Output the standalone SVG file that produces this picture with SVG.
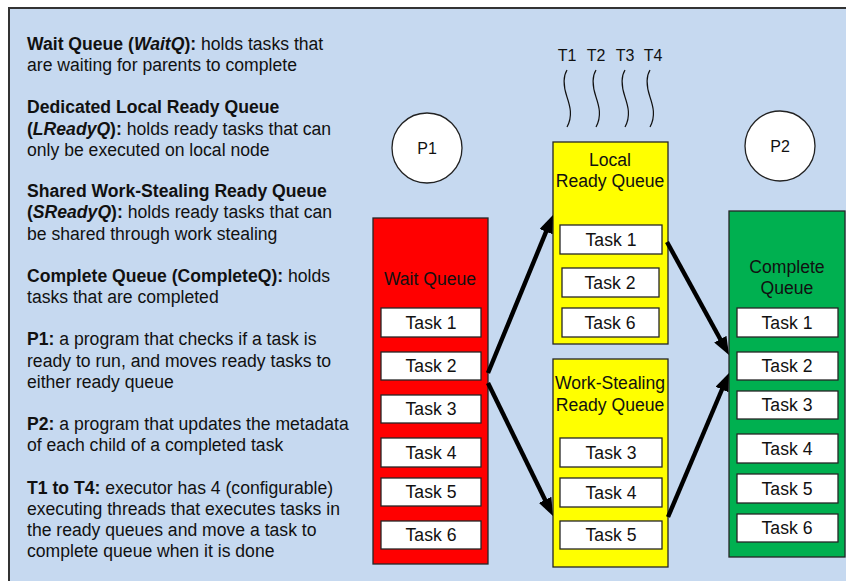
<svg xmlns="http://www.w3.org/2000/svg" width="847" height="581" viewBox="0 0 847 581">
  <style>
    text { font-family: "Liberation Sans", Arial, sans-serif; fill: #111; }
    .desc { font-size: 17.6px; }
    .b { font-weight: bold; }
    .bi { font-weight: bold; font-style: italic; }
    .lbl { font-size: 17.6px; text-anchor: middle; }
    .proc { font-size: 16px; text-anchor: middle; }
    .queue { stroke: #262626; stroke-width: 1.3; }
    .task { fill: #fff; stroke: #262626; stroke-width: 1.3; }
    .thread { fill: none; stroke: #111; stroke-width: 1.2; }
    .proc-circle { fill: #fff; stroke: #222; stroke-width: 1.3; }
    .flow { fill: none; stroke: #000; stroke-width: 4.4; marker-end: url(#head); }
  </style>
  <defs>
    <marker id="head" markerUnits="userSpaceOnUse" markerWidth="18" markerHeight="14" refX="6" refY="7" orient="auto">
      <path d="M0,0 L18,7 L0,14 z" fill="#000"/>
    </marker>
    <path id="wave" class="thread" d="M0,0 C-5,8 -3,18 0,27 S6,46 0,57"/>
  </defs>

  <!-- canvas -->
  <rect x="0" y="0" width="847" height="581" fill="#fff"/>
  <rect x="9" y="8" width="837" height="580" fill="#C6D9F0"/>
  <path d="M9,581 V8 H846" fill="none" stroke="#333" stroke-width="2"/>

  <!-- legend -->
  <g id="legend" class="desc">
    <text x="27" y="50"><tspan class="b">Wait Queue (</tspan><tspan class="bi">WaitQ</tspan><tspan class="b">):</tspan> holds tasks that</text>
    <text x="27" y="71">are waiting for parents to complete</text>
    <text x="27" y="113"><tspan class="b">Dedicated Local Ready Queue</tspan></text>
    <text x="27" y="135"><tspan class="b">(</tspan><tspan class="bi">LReadyQ</tspan><tspan class="b">):</tspan> holds ready tasks that can</text>
    <text x="27" y="156">only be executed on local node</text>
    <text x="27" y="197"><tspan class="b">Shared Work-Stealing Ready Queue</tspan></text>
    <text x="27" y="218"><tspan class="b">(</tspan><tspan class="bi">SReadyQ</tspan><tspan class="b">):</tspan> holds ready tasks that can</text>
    <text x="27" y="240">be shared through work stealing</text>
    <text x="27" y="282"><tspan class="b">Complete Queue (CompleteQ):</tspan> holds</text>
    <text x="27" y="303">tasks that are completed</text>
    <text x="27" y="345"><tspan class="b">P1:</tspan> a program that checks if a task is</text>
    <text x="27" y="367">ready to run, and moves ready tasks to</text>
    <text x="27" y="388">either ready queue</text>
    <text x="27" y="430"><tspan class="b">P2:</tspan> a program that updates the metadata</text>
    <text x="27" y="451">of each child of a completed task</text>
    <text x="27" y="494"><tspan class="b">T1 to T4:</tspan> executor has 4 (configurable)</text>
    <text x="27" y="515">executing threads that executes tasks in</text>
    <text x="27" y="536">the ready queues and move a task to</text>
    <text x="27" y="557">complete queue when it is done</text>
  </g>

  <!-- executor threads -->
  <g id="threads">
    <text class="proc" x="567" y="61">T1</text>
    <text class="proc" x="596" y="61">T2</text>
    <text class="proc" x="625" y="61">T3</text>
    <text class="proc" x="653" y="61">T4</text>
    <use href="#wave" x="567" y="70"/>
    <use href="#wave" x="596" y="70"/>
    <use href="#wave" x="625" y="70"/>
    <use href="#wave" x="650" y="70"/>
  </g>

  <!-- programs -->
  <g id="p1">
    <circle class="proc-circle" cx="427" cy="148" r="35"/>
    <text class="proc" x="427" y="154">P1</text>
  </g>
  <g id="p2">
    <circle class="proc-circle" cx="780" cy="146" r="35"/>
    <text class="proc" x="780" y="152">P2</text>
  </g>

  <!-- wait queue -->
  <g id="wait-queue">
    <rect class="queue" x="373" y="218" width="115" height="346" fill="#FF0000"/>
    <text class="lbl" x="430" y="285">Wait Queue</text>
    <rect class="task" x="381" y="308" width="100" height="29"/>
    <text class="lbl" x="431" y="329">Task 1</text>
    <rect class="task" x="381" y="352" width="100" height="28"/>
    <text class="lbl" x="431" y="372">Task 2</text>
    <rect class="task" x="381" y="395" width="100" height="28"/>
    <text class="lbl" x="431" y="415">Task 3</text>
    <rect class="task" x="381" y="438" width="100" height="29"/>
    <text class="lbl" x="431" y="459">Task 4</text>
    <rect class="task" x="381" y="478" width="100" height="28"/>
    <text class="lbl" x="431" y="498">Task 5</text>
    <rect class="task" x="381" y="521" width="100" height="28"/>
    <text class="lbl" x="431" y="541">Task 6</text>
  </g>

  <!-- local ready queue -->
  <g id="local-ready-queue">
    <rect class="queue" x="553" y="142" width="115" height="202" fill="#FFFF00"/>
    <text class="lbl" x="610" y="166">Local</text>
    <text class="lbl" x="610" y="187">Ready Queue</text>
    <rect class="task" x="560" y="225" width="102" height="29"/>
    <text class="lbl" x="611" y="246">Task 1</text>
    <rect class="task" x="562" y="268" width="97" height="29"/>
    <text class="lbl" x="610" y="289">Task 2</text>
    <rect class="task" x="562" y="308" width="97" height="29"/>
    <text class="lbl" x="610" y="329">Task 6</text>
  </g>

  <!-- work-stealing ready queue -->
  <g id="ws-ready-queue">
    <rect class="queue" x="553" y="359" width="115" height="208" fill="#FFFF00"/>
    <text class="lbl" x="610" y="389">Work-Stealing</text>
    <text class="lbl" x="610" y="411">Ready Queue</text>
    <rect class="task" x="560" y="438" width="102" height="29"/>
    <text class="lbl" x="611" y="459">Task 3</text>
    <rect class="task" x="560" y="478" width="102" height="29"/>
    <text class="lbl" x="611" y="499">Task 4</text>
    <rect class="task" x="560" y="521" width="102" height="28"/>
    <text class="lbl" x="611" y="541">Task 5</text>
  </g>

  <!-- complete queue -->
  <g id="complete-queue">
    <rect class="queue" x="729" y="211" width="116" height="346" fill="#00B050"/>
    <text class="lbl" x="787" y="273">Complete</text>
    <text class="lbl" x="787" y="294">Queue</text>
    <rect class="task" x="737" y="308" width="101" height="29"/>
    <text class="lbl" x="787" y="329">Task 1</text>
    <rect class="task" x="737" y="352" width="101" height="28"/>
    <text class="lbl" x="787" y="372">Task 2</text>
    <rect class="task" x="737" y="391" width="101" height="28"/>
    <text class="lbl" x="787" y="411">Task 3</text>
    <rect class="task" x="737" y="434" width="101" height="29"/>
    <text class="lbl" x="787" y="455">Task 4</text>
    <rect class="task" x="737" y="474" width="101" height="29"/>
    <text class="lbl" x="787" y="495">Task 5</text>
    <rect class="task" x="737" y="514" width="101" height="28"/>
    <text class="lbl" x="787" y="534">Task 6</text>
  </g>

  <!-- task flow -->
  <g id="connectors">
    <path class="flow" d="M488,373 L548.4,226.1"/>
    <path class="flow" d="M488,383 L547.7,505.2"/>
    <path class="flow" d="M667,242 L723.2,344.5"/>
    <path class="flow" d="M668,517 L724.3,384"/>
  </g>
</svg>
